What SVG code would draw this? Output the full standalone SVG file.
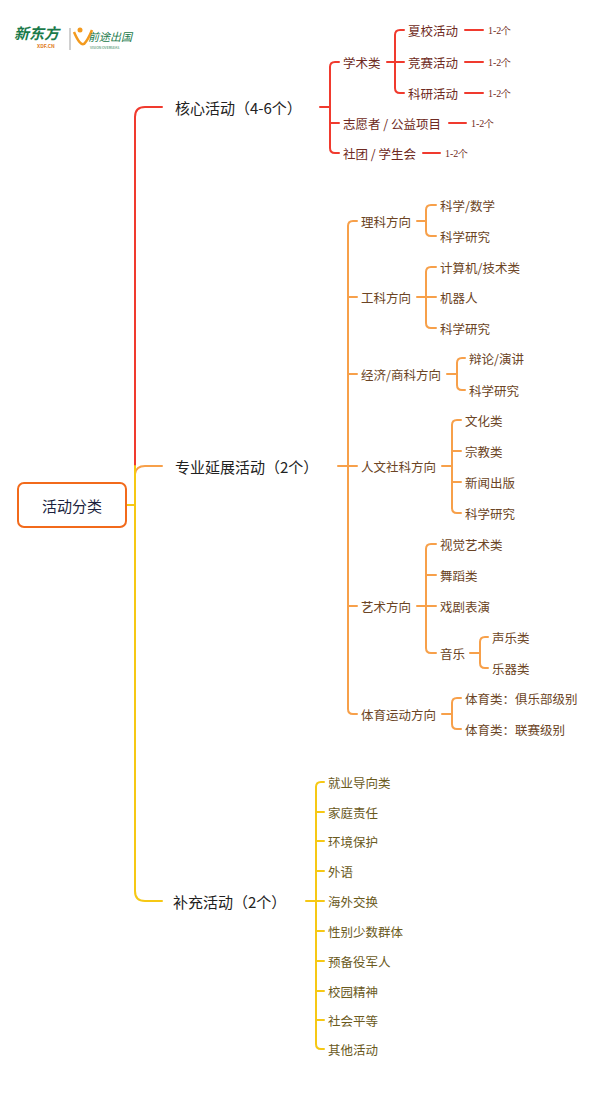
<svg xmlns="http://www.w3.org/2000/svg" width="600" height="1106" viewBox="0 0 600 1106">
<style>
text{font-family:"Noto Sans CJK SC","Noto Sans",sans-serif;dominant-baseline:central}
.m{font-size:15px;fill:#222}
.r{font-size:12.5px;fill:#6e2a22}
.o{font-size:12.5px;fill:#6b4424}
.y{font-size:12.5px;fill:#6a5a1c}
.n{font-family:"Liberation Serif",serif;font-size:10px;fill:#6e2a22}
.lr{fill:none;stroke:#f03a2e;stroke-width:2;stroke-linecap:round}
.lo{fill:none;stroke:#f7a04a;stroke-width:2;stroke-linecap:round}
.ly{fill:none;stroke:#f6c814;stroke-width:2;stroke-linecap:round}
</style>
<rect width="600" height="1106" fill="#fff"/>
<g id="logo">
<text x="14" y="32" font-size="15" font-weight="bold" fill="#1a7a4a" font-style="italic">新东方</text>
<text x="37" y="45" font-size="5" font-weight="bold" fill="#e07a1a" font-family="Liberation Sans,sans-serif">XDF.CN</text>
<line x1="70" y1="28" x2="70" y2="50" stroke="#888" stroke-width="0.8"/>
<path d="M74,32 Q80,46 84,44 Q88,40 92,30" fill="none" stroke="#f39a1e" stroke-width="2.5"/>
<circle cx="80" cy="30" r="2.5" fill="#f39a1e"/>
<text x="88" y="36" font-size="11" fill="#1a7a4a" font-style="italic">前途出国</text>
<text x="90" y="47" font-size="3.5" fill="#1a7a4a" font-family="Liberation Sans,sans-serif">VISION OVERSEAS</text>
</g>
<g id="connectors">
<path class="lr" d="M135,466 V117 Q135,107 145,107 H162"/>
<path class="lo" d="M135,474 Q136,466 145,466 H162"/>
<path class="ly" d="M126,505 H135 M135,466 V891 Q135,901 145,901 H162"/>
<path class="lr" d="M320,107 H330 M339,62 H335 Q330,62 330,67 V148 Q330,153 335,153 H339 M330,123 H339"/>
<path class="lr" d="M387,62 H395 M404,30 H400 Q395,30 395,35 V88 Q395,93 400,93 H404 M395,62 H404"/>
<path class="lr" d="M465,30 H483 M465,62 H483 M465,93 H483 M449,123 H466 M423,153 H440"/>
<path class="lo" d="M338,466 H348 M357,221 H353 Q348,221 348,226 V709 Q348,714 353,714 H357 M348,297 H357 M348,374 H357 M348,466 H357 M348,606 H357"/>
<path class="lo" d="M417,221 H426 M436,205 H431 Q426,205 426,210 V231 Q426,236 431,236 H436"/>
<path class="lo" d="M417,297 H436 M436,267 H431 Q426,267 426,272 V323 Q426,328 431,328 H436"/>
<path class="lo" d="M447,374 H457 M465,358 H462 Q457,358 457,363 V385 Q457,390 462,390 H465"/>
<path class="lo" d="M442,466 H452 M461,420 H457 Q452,420 452,425 V508 Q452,513 457,513 H461 M452,451 H461 M452,482 H461"/>
<path class="lo" d="M417,606 H436 M436,544 H431 Q426,544 426,549 V648 Q426,653 431,653 H436 M426,575 H436"/>
<path class="lo" d="M470,653 H480 M488,637 H485 Q480,637 480,642 V663 Q480,668 485,668 H488"/>
<path class="lo" d="M442,714 H452 M461,698 H457 Q452,698 452,703 V724 Q452,729 457,729 H461"/>
<path class="ly" d="M306,901 H316 M324,782 H321 Q316,782 316,787 V1044 Q316,1049 321,1049 H324 M316,812 H324 M316,841 H324 M316,871 H324 M316,901 H324 M316,931 H324 M316,961 H324 M316,991 H324 M316,1020 H324"/>
</g>
<g id="root">
<rect x="18" y="483" width="108" height="44" rx="6" fill="#fff" stroke="#f26a1b" stroke-width="2"/>
<text x="72" y="505" font-size="15" fill="#1c1f3e" text-anchor="middle">活动分类</text>
</g>
<g id="core">
<text class="m" x="175" y="107">核心活动（4-6个）</text>
<text class="r" x="343" y="62">学术类</text>
<text class="r" x="408" y="30">夏校活动</text>
<text class="r" x="408" y="62">竞赛活动</text>
<text class="r" x="408" y="93">科研活动</text>
<text class="r" x="343" y="123">志愿者 / 公益项目</text>
<text class="r" x="343" y="153">社团 / 学生会</text>
<text class="n" x="488" y="30">1-2个</text>
<text class="n" x="488" y="62">1-2个</text>
<text class="n" x="488" y="93">1-2个</text>
<text class="n" x="471" y="123">1-2个</text>
<text class="n" x="445" y="153">1-2个</text>
</g>
<g id="pro">
<text class="m" x="175" y="466">专业延展活动（2个）</text>
<text class="o" x="361" y="221">理科方向</text>
<text class="o" x="440" y="205">科学/数学</text>
<text class="o" x="440" y="236">科学研究</text>
<text class="o" x="361" y="297">工科方向</text>
<text class="o" x="440" y="267">计算机/技术类</text>
<text class="o" x="440" y="297">机器人</text>
<text class="o" x="440" y="328">科学研究</text>
<text class="o" x="361" y="374">经济/商科方向</text>
<text class="o" x="469" y="358">辩论/演讲</text>
<text class="o" x="469" y="390">科学研究</text>
<text class="o" x="361" y="466">人文社科方向</text>
<text class="o" x="465" y="420">文化类</text>
<text class="o" x="465" y="451">宗教类</text>
<text class="o" x="465" y="482">新闻出版</text>
<text class="o" x="465" y="513">科学研究</text>
<text class="o" x="361" y="606">艺术方向</text>
<text class="o" x="440" y="544">视觉艺术类</text>
<text class="o" x="440" y="575">舞蹈类</text>
<text class="o" x="440" y="606">戏剧表演</text>
<text class="o" x="440" y="653">音乐</text>
<text class="o" x="492" y="637">声乐类</text>
<text class="o" x="492" y="668">乐器类</text>
<text class="o" x="361" y="714">体育运动方向</text>
<text class="o" x="465" y="698">体育类：俱乐部级别</text>
<text class="o" x="465" y="729">体育类：联赛级别</text>
</g>
<g id="sup">
<text class="m" x="173" y="901">补充活动（2个）</text>
<text class="y" x="328" y="782">就业导向类</text>
<text class="y" x="328" y="812">家庭责任</text>
<text class="y" x="328" y="841">环境保护</text>
<text class="y" x="328" y="871">外语</text>
<text class="y" x="328" y="901">海外交换</text>
<text class="y" x="328" y="931">性别少数群体</text>
<text class="y" x="328" y="961">预备役军人</text>
<text class="y" x="328" y="991">校园精神</text>
<text class="y" x="328" y="1020">社会平等</text>
<text class="y" x="328" y="1049">其他活动</text>
</g>
</svg>
